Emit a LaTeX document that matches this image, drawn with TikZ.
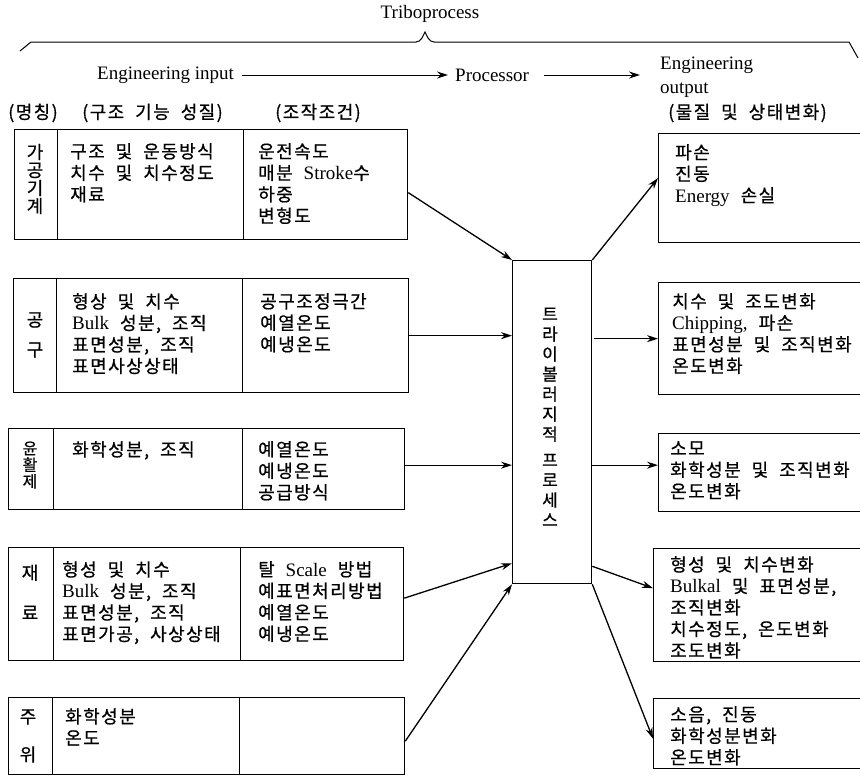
\documentclass[tikz,border=0pt]{standalone}
\usepackage{fontspec}
\setmainfont{Liberation Serif}
\newfontfamily\kr[LetterSpace=8,WordSpace=2,FakeBold=0.6]{Noto Sans CJK KR}
\usetikzlibrary{arrows.meta,calc}
\newcommand\lat[1]{{\fontsize{19}{21.5}\rmfamily #1}}
\tikzset{
  cell/.style={draw, line width=1.3pt, inner sep=0pt, anchor=north west},
  txt/.style={anchor=north west, align=left, inner sep=0pt, font={\fontsize{18}{21.5}\kr}},
  nm/.style={anchor=center, align=center, inner sep=0pt},
  conn/.style={line width=1.3pt, -{Stealth[length=11pt,width=7pt]}},
  hconn/.style={line width=1pt, -{Stealth[length=11pt,width=7pt]}},
  lt/.style={inner sep=3pt, font={\fontsize{19}{24}\rmfamily}},
  kh/.style={anchor=west, inner sep=0pt, font={\fontsize{18}{21.5}\kr}}
}
\begin{document}
\begin{tikzpicture}[x=1pt,y=-1pt]
\useasboundingbox (0,0) rectangle (860,779);
% header
\node[lt] (tri) at (430,14) {Triboprocess};
\draw[line width=1pt] (20,51) -- (31,42) -- (416,42) .. controls (421,42) and (423,36) .. (425,32) .. controls (427,36) and (429,42) .. (434,42) -- (849,42) -- (858,58);
\node[lt, anchor=west] (ein) at (94,75) {Engineering input};
\node[lt, anchor=west] (prc) at (452,75) {Processor};
\node[lt, anchor=north west, align=left] (eout) at (657,54) {Engineering\\output};
\draw[hconn, shorten <=5pt, shorten >=4pt] (ein.east) -- (prc.west);
\draw[hconn, shorten <=12pt, shorten >=17pt] (prc.east) -- (prc.east -| eout.west);
\node[kh] (h1) at (8,113) {(명칭)};
\node[kh] (h2) at (82,113) {(구조 기능 성질)};
\node[kh] (h3) at (275,113) {(조작조건)};
\node[kh] (h4) at (668,113) {(물질 및 상태변화)};
% row 1
\node[cell, minimum width=43pt, minimum height=110pt] (n1) at (14,129) {};
\node[cell, minimum width=186pt, minimum height=110pt] (p1) at (57,129) {};
\node[cell, minimum width=164pt, minimum height=110pt] (c1) at (243,129) {};
\node[nm, font={\fontsize{18}{18}\kr}] (tn1) at (35,179) {가\\공\\기\\계};
\node[txt] (tp1) at (70,143) {구조 및 운동방식\\치수 및 치수정도\\재료};
\node[txt] (tc1) at (258,143) {운전속도\\매분 \lat{Stroke}수\\하중\\변형도};
% row 2
\node[cell, minimum width=43pt, minimum height=114pt] (n2) at (13,278) {};
\node[cell, minimum width=186pt, minimum height=114pt] (p2) at (56,278) {};
\node[cell, minimum width=166pt, minimum height=114pt] (c2) at (242,278) {};
\node[nm, font={\fontsize{18}{30}\kr}] (tn2) at (35,335) {공\\구};
\node[txt] (tp2) at (72,293) {형상 및 치수\\\lat{Bulk} 성분, 조직\\표면성분, 조직\\표면사상상태};
\node[txt] (tc2) at (260,293) {공구조정극간\\예열온도\\예냉온도};
% row 3
\node[cell, minimum width=45pt, minimum height=81pt] (n3) at (8,428) {};
\node[cell, minimum width=189pt, minimum height=81pt] (p3) at (53,428) {};
\node[cell, minimum width=162pt, minimum height=81pt] (c3) at (242,428) {};
\node[nm, font={\fontsize{16}{16.5}\kr}] (tn3) at (30,465) {윤\\활\\제};
\node[txt] (tp3) at (72,441) {화학성분, 조직};
\node[txt] (tc3) at (258,441) {예열온도\\예냉온도\\공급방식};
% row 4
\node[cell, minimum width=45pt, minimum height=113pt] (n4) at (8,547) {};
\node[cell, minimum width=187pt, minimum height=113pt] (p4) at (53,547) {};
\node[cell, minimum width=163pt, minimum height=113pt] (c4) at (240,547) {};
\node[nm, font={\fontsize{18}{40}\kr}] (tn4) at (30,592) {재\\료};
\node[txt] (tp4) at (62,561) {형성 및 치수\\\lat{Bulk} 성분, 조직\\표면성분, 조직\\표면가공, 사상상태};
\node[txt] (tc4) at (258,561) {탈 \lat{Scale} 방법\\예표면처리방법\\예열온도\\예냉온도};
% row 5
\node[cell, minimum width=44pt, minimum height=77pt] (n5) at (8,697) {};
\node[cell, minimum width=187pt, minimum height=77pt] (p5) at (52,697) {};
\node[cell, minimum width=165pt, minimum height=77pt] (c5) at (239,697) {};
\node[nm, font={\fontsize{18}{38}\kr}] (tn5) at (28,736) {주\\위};
\node[txt] (tp5) at (65,708) {화학성분\\온도};
% processor
\node[cell, minimum width=79pt, minimum height=323pt] (proc) at (512,260) {};
\node[nm, font={\fontsize{17}{20}\kr}] (tproc) at (550,417) {트\\라\\이\\볼\\러\\지\\적\\[6pt]프\\로\\세\\스};
% outputs
\node[cell, minimum width=215pt, minimum height=109pt] (oA) at (658,133) {};
\node[cell, minimum width=215pt, minimum height=112pt] (oB) at (658,282) {};
\node[cell, minimum width=215pt, minimum height=78pt] (oC) at (658,433) {};
\node[cell, minimum width=220pt, minimum height=113pt] (oD) at (653,548) {};
\node[cell, minimum width=220pt, minimum height=70pt] (oE) at (653,698) {};
\node[txt] (tA) at (675,144) {파손\\진동\\\lat{Energy} 손실};
\node[txt] (tB) at (672,293) {치수 및 조도변화\\\lat{Chipping,} 파손\\표면성분 및 조직변화\\온도변화};
\node[txt] (tC) at (670,441) {소모\\화학성분 및 조직변화\\온도변화};
\node[txt] (tD) at (670,556) {형성 및 치수변화\\\lat{Bulkal} 및 표면성분,\\조직변화\\치수정도, 온도변화\\조도변화};
\node[txt] (tE) at (670,706) {소음, 진동\\화학성분변화\\온도변화};
% input connectors
\draw[conn] ([yshift=-8pt]c1.east) -- (proc.north west);
\draw[conn] (c2.east) -- (c2.east -| proc.west);
\draw[conn] ([yshift=4pt]c3.east) -- ([yshift=4pt]c3.east -| proc.west);
\draw[conn] ([yshift=6pt]c4.east) -- ([yshift=21pt]proc.south west);
\draw[conn] ([yshift=-5pt]c5.east) -- (proc.south west);
% output connectors
\draw[conn] (proc.north east) -- ([yshift=10pt]oA.west);
\draw[conn] ([xshift=2pt]proc.east |- oB.west) -- (oB.west);
\draw[conn] ([yshift=4pt]proc.east |- c3.east) -- ([yshift=4pt]oC.west |- c3.east);
\draw[conn] ([yshift=18pt]proc.south east) -- ([yshift=17pt]oD.west);
\draw[conn] (proc.south east) -- ([yshift=-5pt]oE.west);
\end{tikzpicture}
\end{document}
